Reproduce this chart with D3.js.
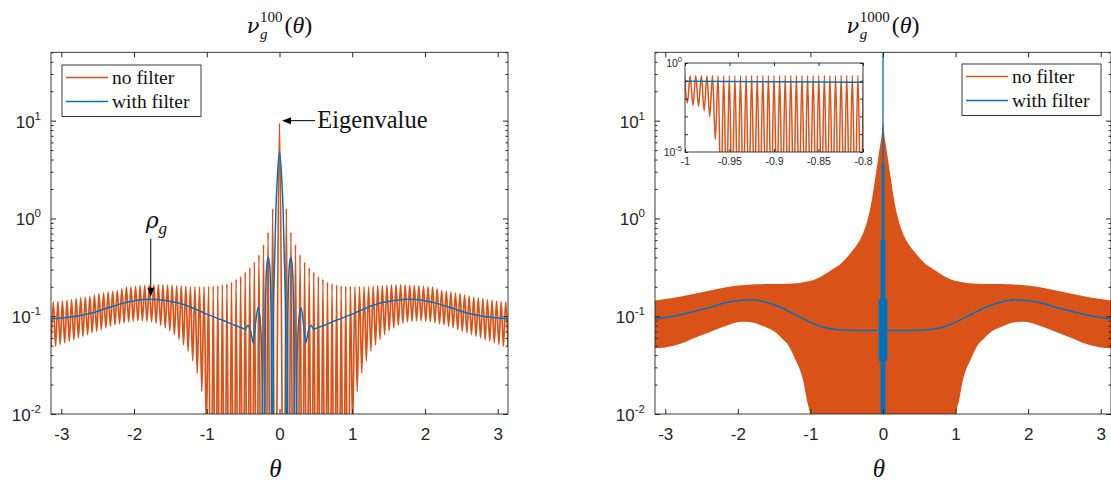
<!DOCTYPE html>
<html>
<head>
<meta charset="utf-8">
<script src="https://cdn.jsdelivr.net/npm/d3@7"></script>
<style>
  body { margin: 0; background: #fff; }
  svg { display: block; }
</style>
</head>
<body>
<svg id="chart" width="1111" height="481"></svg>
<script>
// ---------- data ----------

// N = 100, no filter: peak heights (k = 0 is the eigenvalue spike, then one per side lobe)
const peaks100 = [9.45, 1.27, 0.72, 0.54, 0.425, 0.357, 0.313, 0.282, 0.255, 0.239,
  0.223, 0.215, 0.21, 0.205, 0.203, 0.202, 0.2, 0.2, 0.2, 0.201,
  0.203, 0.204, 0.205, 0.207, 0.208, 0.209, 0.209, 0.208, 0.207, 0.206,
  0.204, 0.202, 0.2, 0.198, 0.191, 0.183, 0.18, 0.176, 0.172, 0.17,
  0.164, 0.16, 0.156, 0.153, 0.151, 0.147, 0.145, 0.143, 0.141, 0.14]
// N = 100, no filter: trough depths between lobes (k = 1..50), 1e-4 = off the axis
const troughs100 = [1e-4, 1e-4, 1e-4, 1e-4, 1e-4, 1e-4, 1e-4, 1e-4, 1e-4, 1e-4,
  1e-4, 1e-4, 1e-4, 1e-4, 1e-4, 0.007, 0.017, 0.026, 0.035, 0.044,
  0.051, 0.058, 0.065, 0.071, 0.076, 0.081, 0.085, 0.088, 0.089, 0.09,
  0.09, 0.089, 0.088, 0.086, 0.084, 0.082, 0.079, 0.076, 0.073, 0.07,
  0.068, 0.065, 0.0625, 0.06, 0.0575, 0.0555, 0.0535, 0.0515, 0.0495, 0.0485]

// N = 100, with filter (theta >= 0, the curve is symmetric)
const blueTheta100 = [0, 0.03, 0.05, 0.07, 0.085, 0.1, 0.115, 0.135, 0.155, 0.175, 0.195, 0.215,
  0.24, 0.265, 0.295, 0.325, 0.36, 0.395, 0.435, 0.47, 0.5, 0.6, 0.8, 1.0, 1.2, 1.4,
  1.6, 1.8, 2.0, 2.2, 2.4, 2.6, 2.8, 3.0, Math.PI]
const blueVal100 = [4.77, 2.6, 1.2, 0.3, 0.08, 1e-4, 0.1, 0.33, 0.4, 0.33, 0.1, 1e-4,
  0.03, 0.09, 0.123, 0.09, 0.053, 0.07, 0.081, 0.0735, 0.075, 0.08, 0.092, 0.105, 0.122, 0.137,
  0.146, 0.149, 0.144, 0.133, 0.119, 0.107, 0.1, 0.096, 0.094]

// N = 1000, no filter: the oscillation is too dense to resolve, so its envelope
const band1000Theta = [0, 0.02, 0.05, 0.08, 0.11, 0.15, 0.2, 0.27, 0.35, 0.45, 0.57, 0.7, 0.85, 0.98,
  1.0, 1.05, 1.1, 1.15, 1.2, 1.3, 1.4, 1.5, 1.6, 1.7, 1.8, 1.9, 2.0, 2.2, 2.4, 2.6, 2.8, 3.0, Math.PI]
const upper1000 = [9.5, 7, 5, 3.5, 2.5, 1.6, 1.05, 0.72, 0.55, 0.44, 0.35, 0.3, 0.255, 0.232,
  0.23, 0.226, 0.222, 0.219, 0.217, 0.215, 0.214, 0.213, 0.213, 0.212, 0.211, 0.209, 0.206, 0.195, 0.182, 0.17, 0.158, 0.15, 0.145]
const lower1000 = [1e-4, 1e-4, 1e-4, 1e-4, 1e-4, 1e-4, 1e-4, 1e-4, 1e-4, 1e-4, 1e-4, 1e-4, 1e-4, 1e-4,
  0.009, 0.014, 0.022, 0.029, 0.035, 0.05, 0.06, 0.07, 0.076, 0.082, 0.086, 0.088, 0.087, 0.078, 0.068, 0.06, 0.052, 0.048, 0.047]

// N = 1000, with filter
const blueTheta1000 = [0, 0.3, 0.5, 0.7, 0.85, 1.0, 1.2, 1.4, 1.6, 1.8, 2.0, 2.2, 2.4, 2.6, 2.8, 3.0, Math.PI]
const blueVal1000 = [0.0714, 0.0714, 0.0718, 0.074, 0.078, 0.087, 0.103, 0.122, 0.138, 0.147, 0.144, 0.136, 0.122, 0.112, 0.103, 0.097, 0.094]
// dense filtered burst around theta = 0: half width (theta), low, high
const burst1000 = [
  {half: 0.06, lo: 0.035, hi: 0.15},
  {half: 0.035, lo: 1e-4, hi: 0.6},
  {half: 0.02, lo: 1e-4, hi: 3.6},
  {half: 0.009, lo: 1e-4, hi: 100}
]

// inset (theta in [-1, -0.8])
const insetPeaks = [0.19, 0.19, 0.19, 0.19, 0.19, 0.19, 0.19, 0.19, 0.19, 0.19, 0.19,
  0.2, 0.2, 0.19, 0.2, 0.2, 0.2, 0.19, 0.2, 0.2, 0.2, 0.2,
  0.19, 0.2, 0.2, 0.2, 0.2, 0.19, 0.2, 0.2, 0.2, 0.2, 0.2]
const insetTroughs = [0.0056, 0.004, 0.0037, 0.0021, 0.001, 0.00005,
  1e-8, 1e-8, 1e-8, 1e-8, 1e-8, 1e-8, 1e-8, 1e-8, 1e-8, 1e-8, 1e-8, 1e-8, 1e-8, 1e-8,
  1e-8, 1e-8, 1e-8, 1e-8, 1e-8, 1e-8, 1e-8, 1e-8, 1e-8, 1e-8, 1e-8, 1e-8]
const insetBlueTheta = [-1, -0.9, -0.8]
const insetBlue = [0.093, 0.088, 0.083]

const xTicks = [-3, -2, -1, 0, 1, 2, 3]
const yDecades = [0.01, 0.1, 1, 10]
const insetXTicks = [-1, -0.95, -0.9, -0.85, -0.8]
const insetDecades = [1e-5, 1e-4, 1e-3, 1e-2, 1e-1, 1]
const legendLabels = ["no filter", "with filter"]

// ---------- drawing ----------
const ORANGE = "#D95319", BLUE = "#0072BD", AXIS = "#262626"
const SANS = "'Liberation Sans', Arial, sans-serif"
const SERIF = "'Liberation Serif', 'Times New Roman', serif"
const GREEK = "'DejaVu Serif', serif"
const TOP = 52.3, BOTTOM = 414

const svg = d3.select("#chart")
const defs = svg.append("defs")

let mirror = (ts, vs) => {
  let pts = ts.map((t, i) => [t, vs[i]])
  let neg = pts.slice(1).map(d => [-d[0], d[1]]).reverse()
  return neg.concat(pts)
}

function panel(id, x0, x1) {
  let x = d3.scaleLinear().domain([-Math.PI, Math.PI]).range([x0, x1])
  let y = d3.scaleLog().domain([0.01, 50]).range([BOTTOM, TOP])
  defs.append("clipPath").attr("id", id)
    .append("rect").attr("x", x0).attr("y", TOP).attr("width", x1 - x0).attr("height", BOTTOM - TOP)
  let g = svg.append("g")
  let plot = g.append("g").attr("clip-path", `url(#${id})`)
  return {x, y, g, plot, x0, x1}
}

function frame(p) {
  let {x, y, g, x0, x1} = p
  let minor = y.ticks().filter(v => !yDecades.includes(v))
  let ax = g.append("g").attr("color", AXIS)
  let clean = s => s.select(".domain").remove()
  ax.append("g").attr("transform", `translate(0,${BOTTOM})`)
    .call(d3.axisBottom(x).tickValues(xTicks).tickSizeInner(-5).tickSizeOuter(0).tickPadding(14).tickFormat(d => String(d)))
    .call(clean)
    .call(s => s.selectAll("text").attr("font-size", 17).attr("font-family", SANS).attr("fill", AXIS))
  ax.append("g").attr("transform", `translate(0,${TOP})`)
    .call(d3.axisTop(x).tickValues(xTicks).tickSizeInner(-5).tickSizeOuter(0).tickFormat(""))
    .call(clean)
  ax.append("g").attr("transform", `translate(${x0},0)`)
    .call(d3.axisLeft(y).tickValues(yDecades).tickSizeInner(-5).tickSizeOuter(0).tickFormat(""))
    .call(clean)
  ax.append("g").attr("transform", `translate(${x0},0)`)
    .call(d3.axisLeft(y).tickValues(minor).tickSizeInner(-2.5).tickSizeOuter(0).tickFormat(""))
    .call(clean)
  ax.append("g").attr("transform", `translate(${x1},0)`)
    .call(d3.axisRight(y).tickValues(yDecades).tickSizeInner(-5).tickSizeOuter(0).tickFormat(""))
    .call(clean)
  ax.append("g").attr("transform", `translate(${x1},0)`)
    .call(d3.axisRight(y).tickValues(minor).tickSizeInner(-2.5).tickSizeOuter(0).tickFormat(""))
    .call(clean)
  g.append("rect").attr("x", x0).attr("y", TOP).attr("width", x1 - x0).attr("height", BOTTOM - TOP)
    .attr("fill", "none").attr("stroke", AXIS).attr("stroke-width", 0.9)

  let lab = g.append("g").attr("font-family", SANS).attr("fill", AXIS)
    .selectAll("text").data(yDecades).enter().append("text")
    .attr("x", x0 - 10).attr("y", d => y(d) + 7).attr("text-anchor", "end").attr("font-size", 17)
  lab.append("tspan").text("10")
  lab.append("tspan").attr("dy", -8).attr("font-size", 11.5).text(d => Math.round(Math.log10(d)))

  // x label
  g.append("text").attr("x", (x0 + Math.min(x1, 1111)) / 2 - 4).attr("y", 477)
    .attr("font-family", SERIF).attr("font-style", "italic").attr("font-size", 25)
    .attr("text-anchor", "middle").attr("fill", "#111").text("θ")
}

function title(cx, sup) {
  let t = svg.append("g").attr("font-family", SERIF).attr("fill", "#111")
  let nu = t.append("text").attr("x", 0).attr("y", 33).attr("font-family", GREEK)
    .attr("font-size", 21).attr("font-style", "italic").text("ν")
  let w1 = nu.node().getComputedTextLength() + 0.5
  let s = t.append("text").attr("x", w1).attr("y", 21.5).attr("font-size", 15).text(sup)
  let sub = t.append("text").attr("x", w1).attr("y", 39).attr("font-size", 15).attr("font-style", "italic").text("g")
  let w2 = Math.max(s.node().getComputedTextLength(), sub.node().getComputedTextLength()) + 2
  let par = t.append("text").attr("x", w1 + w2).attr("y", 33).attr("font-size", 24)
  par.append("tspan").text("(")
  par.append("tspan").attr("font-style", "italic").text("θ")
  par.append("tspan").text(")")
  let total = w1 + w2 + par.node().getComputedTextLength()
  t.attr("transform", `translate(${cx - total / 2},0)`)
}

function legend(g, bx, by) {
  let lg = g.append("g")
  lg.append("rect").attr("x", bx).attr("y", by).attr("width", 139).attr("height", 51.5)
    .attr("fill", "#fff").attr("stroke", AXIS).attr("stroke-width", 0.9)
  let rows = lg.selectAll("g.row").data(legendLabels).enter().append("g")
    .attr("transform", (d, i) => `translate(${bx},${by + 12.5 + i * 24})`)
  rows.append("line").attr("x1", 4).attr("x2", 46)
    .attr("stroke", (d, i) => i ? BLUE : ORANGE).attr("stroke-width", 1.5)
  rows.append("text").attr("x", 50).attr("y", 6).attr("font-family", SERIF).attr("font-size", 19.5)
    .attr("fill", "#111").text(d => d)
}

function arrowHead(g, tx, ty, dir) {
  // dir: "left" or "down"
  let pts = dir === "left"
    ? [[tx, ty], [tx + 9, ty - 3.5], [tx + 9, ty + 3.5]]
    : [[tx, ty], [tx - 3.5, ty - 9], [tx + 3.5, ty - 9]]
  g.append("path").attr("d", d3.line()(pts) + "Z").attr("fill", "#000")
}

// ----- left panel: N = 100 -----
{
  let p = panel("clipL", 51, 508)
  let {x, y, plot, g} = p
  let step = 2 * Math.PI / 100
  let pts = []
  for (let k = 50; k >= 1; k--) {
    pts.push([-k * step, troughs100[k - 1]])
    if (k - 1 >= 1) pts.push([-(k - 0.5) * step, peaks100[k - 1]])
  }
  pts.push([0, peaks100[0]])
  for (let k = 1; k <= 50; k++) {
    pts.push([k * step, troughs100[k - 1]])
    if (k <= 49) pts.push([(k + 0.5) * step, peaks100[k]])
  }
  let line = d3.line().x(d => x(d[0])).y(d => y(d[1])).curve(d3.curveMonotoneX)
  plot.append("path").attr("d", line(pts)).attr("fill", "none")
    .attr("stroke", ORANGE).attr("stroke-width", 1.7).attr("stroke-linejoin", "round")
  plot.append("path").attr("d", line(mirror(blueTheta100, blueVal100))).attr("fill", "none")
    .attr("stroke", BLUE).attr("stroke-width", 1.5)
  frame(p)
  legend(g, 62, 65)

  // annotations
  let ann = g.append("g")
  ann.append("line").attr("x1", x(0.49)).attr("x2", x(0.035) + 8).attr("y1", y(10)).attr("y2", y(10))
    .attr("stroke", "#000").attr("stroke-width", 1)
  arrowHead(ann, x(0.035), y(10), "left")
  ann.append("text").attr("x", x(0.52)).attr("y", y(10) + 7).attr("font-family", SERIF)
    .attr("font-size", 24.5).attr("fill", "#111").text("Eigenvalue")
  ann.append("line").attr("x1", x(-1.77)).attr("x2", x(-1.77)).attr("y1", y(0.62)).attr("y2", y(0.158) - 8)
    .attr("stroke", "#000").attr("stroke-width", 1)
  arrowHead(ann, x(-1.77), y(0.158), "down")
  let rho = ann.append("text").attr("x", x(-1.84)).attr("y", y(0.8)).attr("font-family", GREEK)
    .attr("font-size", 22).attr("font-style", "italic").attr("fill", "#111")
  rho.append("tspan").text("ρ")
  rho.append("tspan").attr("dy", 6).attr("font-family", SERIF).attr("font-size", 17).text("g")

  title((51 + 508) / 2, "100")
}

// ----- right panel: N = 1000 -----
{
  let p = panel("clipR", 655, 1111)
  let {x, y, plot, g} = p
  let band = band1000Theta.map((t, i) => [t, lower1000[i], upper1000[i]])
  band = band.slice(1).map(d => [-d[0], d[1], d[2]]).reverse().concat(band)
  let area = d3.area().x(d => x(d[0])).y0(d => y(d[1])).y1(d => y(d[2])).curve(d3.curveMonotoneX)
  plot.append("path").attr("d", area(band)).attr("fill", ORANGE)
  let line = d3.line().x(d => x(d[0])).y(d => y(d[1])).curve(d3.curveMonotoneX)
  plot.append("path").attr("d", line(mirror(blueTheta1000, blueVal1000))).attr("fill", "none")
    .attr("stroke", BLUE).attr("stroke-width", 1.5)
  plot.selectAll("rect.burst").data(burst1000).enter().append("rect")
    .attr("x", d => x(-d.half)).attr("width", d => x(d.half) - x(-d.half))
    .attr("y", d => y(d.hi)).attr("height", d => y(d.lo) - y(d.hi))
    .attr("fill", BLUE)
  frame(p)
  legend(g, 962, 64)
  title(883, "1000")

  // inset
  let xi = d3.scaleLinear().domain([-1, -0.8]).range([685, 863])
  let yi = d3.scaleLog().domain([1e-5, 1]).range([152, 63])
  defs.append("clipPath").attr("id", "clipI")
    .append("rect").attr("x", 685).attr("y", 63).attr("width", 178).attr("height", 89)
  let ig = g.append("g")
  ig.append("rect").attr("x", 685).attr("y", 63).attr("width", 178).attr("height", 89).attr("fill", "#fff")
  let ip = ig.append("g").attr("clip-path", "url(#clipI)")
  let step = 2 * Math.PI / 1000
  let start = -1.0005
  let ipts = []
  insetPeaks.forEach((v, j) => {
    ipts.push([start + j * step, v])
    if (j < insetTroughs.length) ipts.push([start + (j + 0.5) * step, insetTroughs[j]])
  })
  let iline = d3.line().x(d => xi(d[0])).y(d => yi(d[1])).curve(d3.curveMonotoneX)
  ip.append("path").attr("d", iline(ipts)).attr("fill", "none").attr("stroke", ORANGE).attr("stroke-width", 1.5)
  ip.append("path").attr("d", iline(insetBlueTheta.map((t, i) => [t, insetBlue[i]]))).attr("fill", "none")
    .attr("stroke", BLUE).attr("stroke-width", 1.5)
  let iax = ig.append("g").attr("color", AXIS)
  let clean = s => s.select(".domain").remove()
  iax.append("g").attr("transform", "translate(0,152)")
    .call(d3.axisBottom(xi).tickValues(insetXTicks).tickSizeInner(-3).tickSizeOuter(0).tickPadding(6).tickFormat(d => String(d)))
    .call(clean)
    .call(s => s.selectAll("text").attr("font-size", 10.5).attr("font-family", SANS).attr("fill", AXIS))
  iax.append("g").attr("transform", "translate(0,63)")
    .call(d3.axisTop(xi).tickValues(insetXTicks).tickSizeInner(-3).tickSizeOuter(0).tickFormat(""))
    .call(clean)
  iax.append("g").attr("transform", "translate(685,0)")
    .call(d3.axisLeft(yi).tickValues(insetDecades).tickSizeInner(-3).tickSizeOuter(0).tickFormat(""))
    .call(clean)
  iax.append("g").attr("transform", "translate(863,0)")
    .call(d3.axisRight(yi).tickValues(insetDecades).tickSizeInner(-3).tickSizeOuter(0).tickFormat(""))
    .call(clean)
  ig.append("rect").attr("x", 685).attr("y", 63).attr("width", 178).attr("height", 89)
    .attr("fill", "none").attr("stroke", AXIS).attr("stroke-width", 0.9)
  let il = ig.append("g").attr("font-family", SANS).attr("fill", AXIS)
    .selectAll("text").data([1, 1e-5]).enter().append("text")
    .attr("x", 682).attr("y", d => yi(d) + 4).attr("text-anchor", "end").attr("font-size", 10.5)
  il.append("tspan").text("10")
  il.append("tspan").attr("dy", -5).attr("font-size", 7.5).text(d => Math.round(Math.log10(d)))
}
</script>
</body>
</html>
